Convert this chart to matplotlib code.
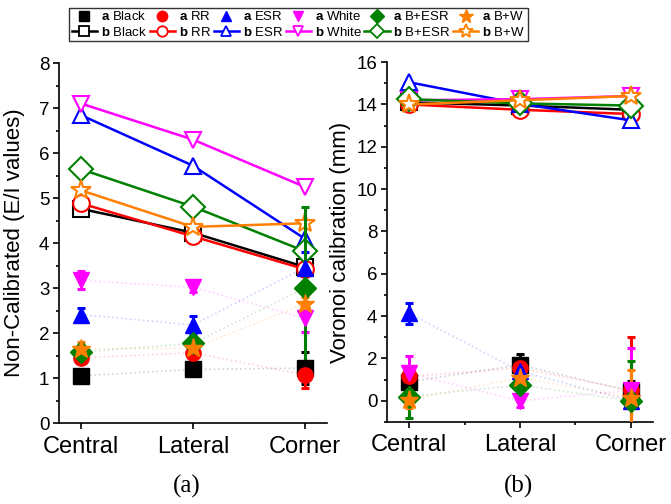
import numpy as np
import matplotlib
matplotlib.use("Agg")
import matplotlib.pyplot as plt
from matplotlib.lines import Line2D

plt.rcParams['font.family'] = ['Liberation Sans', 'DejaVu Sans']
plt.rcParams['mathtext.fontset'] = 'custom'
plt.rcParams['mathtext.bf'] = 'Liberation Sans:bold'
plt.rcParams['mathtext.rm'] = 'Liberation Sans'

positions = ["Central", "Lateral", "Corner"]
names = ["Black", "RR", "ESR", "White", "B+ESR", "B+W"]
colors = ["black", "red", "blue", "magenta", "green", "#FF7F00"]
markers = ["s", "o", "^", "v", "D", "*"]

# (a) non-calibrated E/I values
left_a = [[1.05, 1.19, 1.22],
          [1.45, 1.56, 1.07],
          [2.41, 2.18, 3.45],
          [3.17, 3.02, 2.33],
          [1.58, 1.77, 3.0],
          [1.65, 1.66, 2.65]]
left_a_err = [[0.05, 0.05, 0.35],
              [0.08, 0.10, 0.30],
              [0.15, 0.20, 0.35],
              [0.20, 0.10, 0.30],
              [0.10, 0.10, 1.80],
              [0.15, 0.25, 0.15]]
left_b = [[4.76, 4.23, 3.47],
          [4.88, 4.15, 3.42],
          [6.84, 5.72, 4.10],
          [7.10, 6.30, 5.25],
          [5.64, 4.81, 3.82],
          [5.17, 4.36, 4.44]]

# (b) Voronoi calibration (mm)
right_a = [[0.9, 1.7, 0.45],
           [1.15, 1.55, 0.5],
           [4.13, 1.4, 0.0],
           [1.3, 0.0, 0.5],
           [0.2, 0.75, 0.0],
           [0.05, 1.1, 0.15]]
right_a_err = [[0.6, 0.5, 0.5],
               [0.3, 0.4, 2.5],
               [0.5, 0.6, 0.3],
               [0.8, 0.3, 2.0],
               [1.0, 0.6, 1.9],
               [0.4, 0.7, 1.3]]
right_b = [[14.1, 13.95, 13.75],
           [14.0, 13.75, 13.55],
           [15.05, 14.03, 13.25],
           [14.2, 14.25, 14.4],
           [14.25, 14.05, 13.95],
           [14.0, 14.2, 14.4]]

x = np.arange(len(positions))

fig = plt.figure(figsize=(6.71, 5.04), dpi=100)
ax1 = fig.add_axes([0.0879, 0.1607, 0.3994, 0.714])
ax2 = fig.add_axes([0.5768, 0.1627, 0.3964, 0.714])


def draw(ax, a_vals, a_err, b_vals):
    for i in range(len(names)):
        c = colors[i]
        ms = 14 if markers[i] == "*" else 11
        ax.plot(x, a_vals[i], color=c, ls=':', lw=1.2, alpha=0.18, zorder=1)
        ax.errorbar(x, a_vals[i], yerr=a_err[i], fmt=markers[i], color=c,
                    ms=ms, mec=c, mfc=c, elinewidth=2.2, capsize=3,
                    capthick=2.2, zorder=3)
        ax.plot(x, b_vals[i], color=c, lw=1.8, marker=markers[i],
                ms=ms + 1, mfc='white', mec=c, mew=1.5, zorder=2)
    for s in ['top', 'right']:
        ax.spines[s].set_visible(False)
    for s in ['left', 'bottom']:
        ax.spines[s].set_linewidth(1.2)
    ax.set_xticks(x)
    ax.set_xticklabels(positions)
    ax.set_xlim(-0.2, 2.2)
    ax.tick_params(which='major', direction='out', length=4, width=1.2)
    ax.tick_params(which='minor', direction='out', length=2.5, width=1.2)
    ax.tick_params(axis='x', labelsize=17, pad=5)
    ax.tick_params(axis='y', labelsize=13.5, pad=3)


draw(ax1, left_a, left_a_err, left_b)
ax1.set_ylim(0, 8)
ax1.set_yticks(np.arange(0, 9, 1))
ax1.set_yticks(np.arange(0.5, 8, 1), minor=True)
ax1.set_ylabel("Non-Calibrated (E/I values)", fontsize=16)
ax1.yaxis.set_label_coords(-0.125, 0.5)

draw(ax2, right_a, right_a_err, right_b)
ax2.set_ylim(-1, 16)
ax2.set_yticks(np.arange(0, 17, 2))
ax2.set_yticks(np.arange(-1, 16, 1), minor=True)
ax2.set_xticks([0.5, 1.5], minor=True)
ax2.set_ylabel("Voronoi calibration (mm)", fontsize=16)
ax2.yaxis.set_label_coords(-0.135, 0.5)

fig.text(0.279, 0.022, "(a)", family="Liberation Serif", fontsize=18,
         ha='center')
fig.text(0.773, 0.022, "(b)", family="Liberation Serif", fontsize=18,
         ha='center')

# legend: a (filled) on first row, b (open) on second
handles, labels = [], []
for i in range(len(names)):
    c = colors[i]
    ms = 10 if markers[i] == "*" else 7.5
    handles.append(Line2D([], [], ls='none', marker=markers[i], color=c,
                          ms=ms, mfc=c, mec=c))
    labels.append(r"$\bf{a}$ " + names[i])
    handles.append(Line2D([], [], ls='-', lw=1.8, marker=markers[i], color=c,
                          ms=ms, mfc='white', mec=c, mew=1.3))
    labels.append(r"$\bf{b}$ " + names[i])

leg = fig.legend(handles, labels, ncol=6, loc='upper left',
                 bbox_to_anchor=(0.103, 0.985), fontsize=9.5,
                 frameon=True, fancybox=False, edgecolor='black',
                 handlelength=1.9, handletextpad=0.3, columnspacing=0.2,
                 borderpad=0.2, labelspacing=0.2, borderaxespad=0)
leg.get_frame().set_linewidth(1.0)

fig.savefig("out.png", dpi=100)
